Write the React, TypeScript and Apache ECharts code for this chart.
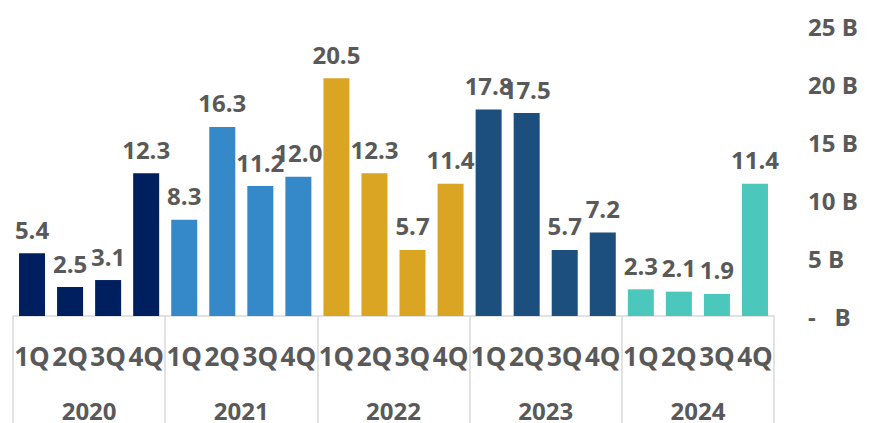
import React, { useEffect, useRef } from "react";
import * as echarts from "echarts";

const years = ["2020", "2021", "2022", "2023", "2024"];
const quarters = ["1Q", "2Q", "3Q", "4Q"];
const yearColors = ["#001F5F", "#3589C8", "#DAA523", "#1C4E7E", "#4CC7BC"];
const values2020 = [5.4, 2.5, 3.1, 12.3];
const values2021 = [8.3, 16.3, 11.2, 12.0];
const values2022 = [20.5, 12.3, 5.7, 11.4];
const values2023 = [17.8, 17.5, 5.7, 7.2];
const values2024 = [2.3, 2.1, 1.9, 11.4];
const yTicks = [0, 5, 10, 15, 20, 25];

const FONT = "'Open Sans', 'Noto Sans', sans-serif";
const TEXT = "#595959";

export default function App() {
  const ref = useRef<HTMLDivElement>(null);
  useEffect(() => {
    const chart = echarts.init(ref.current!, undefined, { renderer: "svg" });
    const allValues = [values2020, values2021, values2022, values2023, values2024];
    const qCats: string[] = [];
    const data: any[] = [];
    allValues.forEach((arr, yi) => {
      arr.forEach((v, qi) => {
        qCats.push(quarters[qi] + "_" + yi);
        data.push({ value: v, itemStyle: { color: yearColors[yi] } });
      });
    });
    chart.setOption({
      animation: false,
      grid: { left: 13, right: 103, top: 26, bottom: 107, containLabel: false },
      xAxis: [
        {
          type: "category",
          data: qCats,
          position: "bottom",
          axisLine: { show: true, lineStyle: { color: "#D9D9D9", width: 1.5 } },
          axisTick: { show: false },
          axisLabel: {
            interval: 0,
            margin: 27,
            color: TEXT,
            fontFamily: FONT,
            fontWeight: "bold",
            fontSize: 26,
            formatter: (v: string) => v.split("_")[0],
          },
        },
        {
          type: "category",
          data: years,
          position: "bottom",
          offset: 0,
          axisLine: { show: false },
          axisTick: {
            show: true,
            interval: 0,
            length: 110,
            lineStyle: { color: "#D9D9D9", width: 1.5 },
          },
          axisLabel: {
            interval: 0,
            margin: 82,
            color: TEXT,
            fontFamily: FONT,
            fontWeight: "bold",
            fontSize: 24,
          },
        },
      ],
      yAxis: {
        type: "value",
        position: "right",
        min: yTicks[0],
        max: yTicks[yTicks.length - 1],
        interval: 5,
        splitLine: { show: false },
        axisLine: { show: false },
        axisTick: { show: false },
        axisLabel: {
          margin: 34,
          align: "left",
          color: TEXT,
          fontFamily: FONT,
          fontWeight: "bold",
          fontSize: 24,
          formatter: (v: number) => (v === 0 ? "-   B" : v + " B"),
        },
      },
      series: [
        {
          type: "bar",
          xAxisIndex: 0,
          barWidth: 26,
          data,
          label: {
            show: true,
            position: "top",
            distance: 12,
            color: TEXT,
            fontFamily: FONT,
            fontWeight: "bold",
            fontSize: 24,
            formatter: (p: any) => Number(p.value).toFixed(1),
          },
        },
      ],
    });
    return () => chart.dispose();
  }, []);
  return <div ref={ref} style={{ width: 877, height: 423, position: "absolute", left: 0, top: 0 }} />;
}
